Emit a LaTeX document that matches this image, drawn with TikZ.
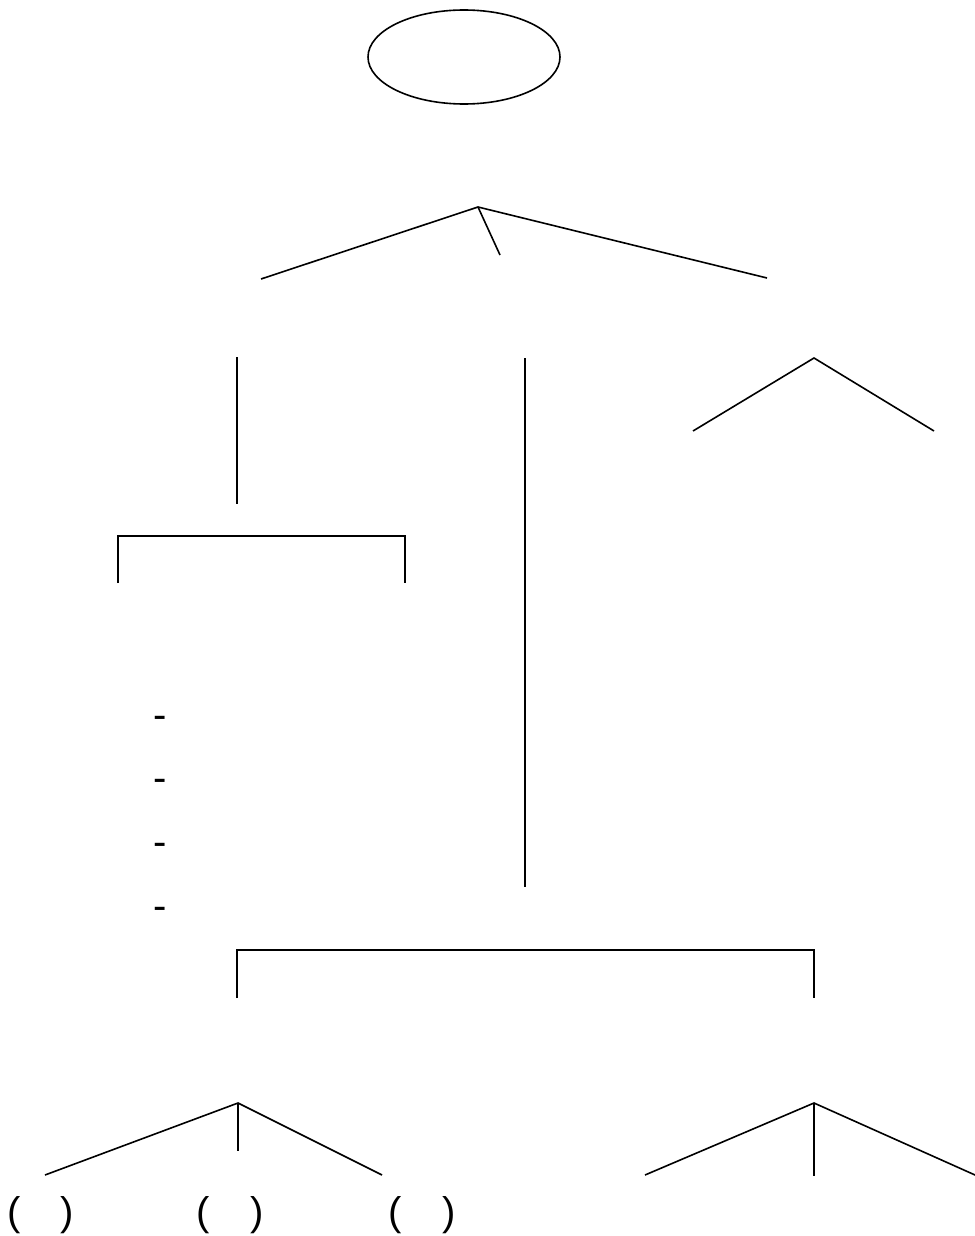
\documentclass[tikz,border=0pt]{standalone}
\usepackage{fontspec}
\setmainfont{Liberation Sans}
\usetikzlibrary{shapes.geometric}

\begin{document}
\begin{tikzpicture}[x=1pt, y=-1pt, line width=1.6pt]

    % Define the styles for the nodes
    \tikzstyle{root} = [ellipse, draw, minimum width=192pt, minimum height=94pt]
    \tikzstyle{glyph} = [inner sep=0pt, anchor=base, font=\fontsize{40}{48}\selectfont]
    \tikzstyle{branch} = [line cap=butt]

    \useasboundingbox (0,0) rectangle (974,1236);

    % Nodes
    \node (top) [root] at (464,57) {};

    \coordinate (t0) at (478,207);
    \coordinate (t1) at (261,279);
    \coordinate (t2) at (500,255);
    \coordinate (t3) at (767,278);

    \coordinate (a0) at (237,357);
    \coordinate (a1) at (237,504);
    \coordinate (b0) at (525,358);
    \coordinate (b1) at (525,887);
    \coordinate (c0) at (814,358);
    \coordinate (c1) at (693,431);
    \coordinate (c2) at (934,431);

    \coordinate (k1) at (118,583);
    \coordinate (k2) at (405,583);
    \coordinate (m1) at (237,998);
    \coordinate (m2) at (814,998);

    \coordinate (p0) at (238,1103);
    \coordinate (p1) at (45,1175);
    \coordinate (p2) at (238,1151);
    \coordinate (p3) at (382,1175);
    \coordinate (q0) at (814,1103);
    \coordinate (q1) at (645,1175);
    \coordinate (q2) at (814,1176);
    \coordinate (q3) at (984,1179);

    \node (d1) [glyph] at (160,728) {-};
    \node (d2) [glyph] at (160,791) {-};
    \node (d3) [glyph] at (160,855) {-};
    \node (d4) [glyph] at (160,919) {-};

    \node (r1) [glyph] at (41,1225) {(\quad)};
    \node (r2) [glyph] at (230,1225) {(\quad)};
    \node (r3) [glyph] at (422,1225) {(\quad)};

    % Lines
    \draw[branch] (t1) -- (t0) -- (t3);
    \draw[branch] (t0) -- (t2);
    \draw[branch] (a0) -- (a1);
    \draw[branch] (b0) -- (b1);
    \draw[branch] (c1) -- (c0) -- (c2);
    \draw[branch] (k1) |- (k2 |- 0,536) -- (k2);
    \draw[branch] (m1) |- (m2 |- 0,950) -- (m2);
    \draw[branch] (p1) -- (p0) -- (p3);
    \draw[branch] (p0) -- (p2);
    \draw[branch] (q1) -- (q0) -- (q3);
    \draw[branch] (q0) -- (q2);

\end{tikzpicture}
\end{document}
